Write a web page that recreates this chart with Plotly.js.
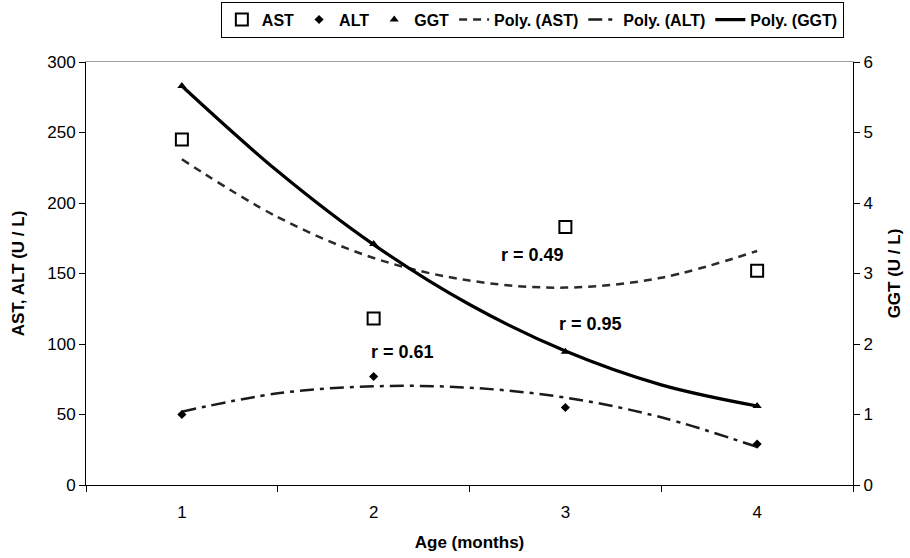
<!DOCTYPE html>
<html>
<head>
<meta charset="utf-8">
<script src="https://cdn.plot.ly/plotly-3.0.1.min.js"></script>
<style>html,body{margin:0;padding:0;background:#fff;}#chart{width:910px;height:558px;}</style>
</head>
<body>
<div id="chart"></div>
<script>
const months = [1, 2, 3, 4];
const tickLabels = ["1", "2", "3", "4"];
const ast = [245, 118, 183, 152];
const alt = [50, 77, 55, 29];
const ggt = [5.66, 3.42, 1.89, 1.12];
const trendX = [1, 1.5, 2, 2.5, 3, 3.5, 4];
const astTrend = [231, 190, 161, 145, 140, 147, 166];
const altTrend = [52, 65, 70, 69, 62, 48, 27];
const ggtTrend = [5.66, 4.45, 3.41, 2.56, 1.90, 1.42, 1.12];
const boundaries = [0.5, 1.5, 2.5, 3.5, 4.5];

const FONT = "Liberation Sans, Arial, sans-serif";

const data = [
  {x: trendX, y: astTrend, type: "scatter", mode: "lines", name: "<b>Poly. (AST)</b>", legendrank: 4,
   line: {color: "#2a2a2a", width: 2.5, dash: "8px,6px", shape: "spline"}, hoverinfo: "skip"},
  {x: trendX, y: altTrend, type: "scatter", mode: "lines", name: "<b>Poly. (ALT)</b>", legendrank: 5,
   line: {color: "#1a1a1a", width: 2.5, dash: "14px,6px,4px,6px", shape: "spline"}, hoverinfo: "skip"},
  {x: months, y: ast, type: "scatter", mode: "markers", name: "<b>AST</b>", legendrank: 1,
   marker: {symbol: "square", size: 12, color: "#fff", line: {color: "#000", width: 2}}},
  {x: months, y: alt, type: "scatter", mode: "markers", name: "<b>ALT</b>", legendrank: 2,
   marker: {symbol: "diamond", size: 7, color: "#000"}},
  {x: trendX, y: ggtTrend, type: "scatter", mode: "lines", name: "<b>Poly. (GGT)</b>", legendrank: 6, yaxis: "y2",
   line: {color: "#000", width: 3.2, shape: "spline"}, hoverinfo: "skip"},
  {x: months, y: ggt, type: "scatter", mode: "markers", name: "<b>GGT</b>", legendrank: 3, yaxis: "y2",
   marker: {symbol: "triangle-up", size: 8, color: "#000"}}
];

const layout = {
  width: 910, height: 558,
  margin: {l: 86, r: 57, t: 62, b: 73},
  paper_bgcolor: "#fff", plot_bgcolor: "#fff",
  font: {family: FONT, size: 17, color: "#000"},
  showlegend: true,
  legend: {
    orientation: "h", xref: "container", yref: "container",
    x: 0.585, xanchor: "center", y: 0.997, yanchor: "top",
    bordercolor: "#000", borderwidth: 1, bgcolor: "#fff",
    font: {family: FONT, size: 16, color: "#000"},
    itemwidth: 30, tracegroupgap: 0
  },
  xaxis: {
    range: [0.5, 4.5], tickmode: "array", tickvals: months, ticktext: tickLabels,
    ticks: "", showgrid: false, zeroline: false,
    showline: true, linecolor: "#000", linewidth: 1,
    tickfont: {family: FONT, size: 17},
    ticklabelstandoff: 12,
    minor: {tickmode: "array", tickvals: boundaries, ticks: "outside", ticklen: 6, tickcolor: "#000", showgrid: false},
    title: {text: "<b>Age (months)</b>", font: {family: FONT, size: 17}, standoff: 14}
  },
  xaxis2: {
    overlaying: "x", side: "top", range: [0.5, 4.5], showticklabels: false, ticks: "",
    showgrid: false, zeroline: false, showline: true, linecolor: "#a0a0a0", linewidth: 1
  },
  yaxis: {
    range: [0, 300], dtick: 50, tick0: 0, ticks: "outside", ticklen: 6, tickcolor: "#000",
    showgrid: false, zeroline: false, showline: true, linecolor: "#000", linewidth: 1,
    tickfont: {family: FONT, size: 17},
    title: {text: "<b>AST, ALT (U / L)</b>", font: {family: FONT, size: 17}, standoff: 18}
  },
  yaxis2: {
    overlaying: "y", side: "right", range: [0, 6], dtick: 1, tick0: 0, ticks: "outside", ticklen: 6, tickcolor: "#000",
    showgrid: false, zeroline: false, showline: true, linecolor: "#000", linewidth: 1,
    tickfont: {family: FONT, size: 17},
    title: {text: "<b>GGT (U / L)</b>", font: {family: FONT, size: 17}, standoff: 16}
  },
  annotations: [
    {x: 2.83, y: 163, xref: "x", yref: "y", text: "<b>r = 0.49</b>", showarrow: false, font: {family: FONT, size: 18}},
    {x: 3.13, y: 114, xref: "x", yref: "y", text: "<b>r = 0.95</b>", showarrow: false, font: {family: FONT, size: 18}},
    {x: 2.15, y: 94, xref: "x", yref: "y", text: "<b>r = 0.61</b>", showarrow: false, font: {family: FONT, size: 18}}
  ]
};

// invisible trace to activate the grey top frame line (x2 axis)
data.push({x: [1], y: [0], xaxis: "x2", yaxis: "y", mode: "markers", marker: {opacity: 0}, showlegend: false, hoverinfo: "skip"});

Plotly.newPlot("chart", data, layout, {staticPlot: true, displayModeBar: false});
</script>
</body>
</html>
